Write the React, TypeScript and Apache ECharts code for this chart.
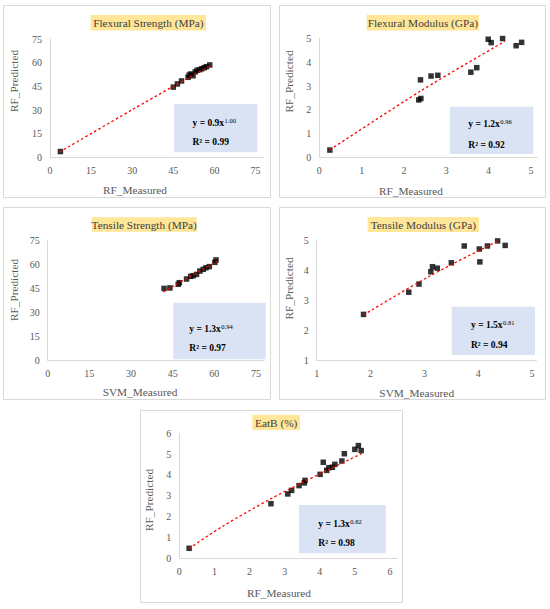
import React, { useEffect, useRef } from "react";
import * as echarts from "echarts";

const FONT = "'Liberation Serif', 'Times New Roman', Times, serif";

// ---------- data ----------
const titles = [
  "Flexural Strength (MPa)",
  "Flexural Modulus (GPa)",
  "Tensile Strength (MPa)",
  "Tensile Modulus (GPa)",
  "EatB (%)",
];
const xNames = ["RF_Measured", "RF_Measured", "SVM_Measured", "SVM_Measured", "RF_Measured"];
const yNames = ["RF_Predicted", "RF_Predicted", "RF_Predicted", "RF_Predicted", "RF_Predicted"];
const eqCoef = ["0.9", "1.2", "1.3", "1.5", "1.3"];
const eqExp = ["1.00", "0.96", "0.94", "0.81", "0.82"];
const r2Values = ["0.99", "0.92", "0.97", "0.94", "0.98"];

const flexStrengthPts = [
  [3.8, 3.9], [45, 44.6], [46.5, 46.6], [48, 48.5], [50.4, 50.8], [50.8, 52.2],
  [51.4, 52.9], [52.2, 51.8], [53, 54.2], [53.7, 55.3], [54.6, 55.6], [55.4, 56.2],
  [56.3, 56.9], [57.1, 57.5], [58.3, 58.6],
];
const flexStrengthTrend = [[3.5, 3.6], [30, 30.3], [58, 57.8]];

const flexModulusPts = [
  [0.25, 0.32], [2.35, 2.42], [2.4, 2.48], [2.39, 3.26], [2.64, 3.42], [2.8, 3.45],
  [3.58, 3.58], [3.72, 3.77], [3.99, 4.96], [4.06, 4.82], [4.33, 4.99], [4.65, 4.69],
  [4.78, 4.83],
];
const flexModulusTrend = [[0.25, 0.33], [2.4, 2.8], [4.38, 4.87]];

const tensileStrengthPts = [
  [41.9, 45], [44, 45.3], [47, 47.6], [47.4, 48.6], [50, 50.9], [51.5, 52.6],
  [52.4, 53], [53.6, 53.8], [54.8, 55.9], [56, 57], [57, 58], [58.2, 58.7],
  [60.2, 61.4], [60.6, 62.9],
];
const tensileStrengthTrend = [[41.6, 42.8], [50, 51.2], [61, 62]];

const tensileModulusPts = [
  [1.87, 2.52], [2.71, 3.26], [2.9, 3.53], [3.12, 3.94], [3.15, 4.11], [3.24, 4.06],
  [3.5, 4.24], [3.74, 4.8], [4.02, 4.7], [4.03, 4.27], [4.17, 4.8], [4.36, 4.97],
  [4.5, 4.82],
];
const tensileModulusTrend = [[1.87, 2.5], [3.1, 3.8], [4.36, 4.96]];

const eatbPts = [
  [0.28, 0.48], [2.61, 2.62], [3.09, 3.09], [3.2, 3.26], [3.41, 3.49], [3.56, 3.62],
  [3.58, 3.74], [4.01, 4.03], [4.1, 4.61], [4.2, 4.22], [4.26, 4.35], [4.36, 4.37],
  [4.43, 4.51], [4.63, 4.67], [4.7, 5.02], [5.0, 5.23], [5.1, 5.41], [5.18, 5.17],
];
const eatbTrend = [[0.28, 0.47], [1.2, 1.5], [2.6, 2.85], [4, 4.05], [5.2, 5.03]];

const pointSets = [flexStrengthPts, flexModulusPts, tensileStrengthPts, tensileModulusPts, eatbPts];
const trendSets = [flexStrengthTrend, flexModulusTrend, tensileStrengthTrend, tensileModulusTrend, eatbTrend];

// x axis: [min, last labelled tick, axis end, interval]
const xRanges = [
  [0, 75, 78, 15],
  [0, 5, 5.15, 1],
  [0, 75, 78, 15],
  [1, 5, 5.08, 1],
  [0, 6, 6.2, 1],
];
// y axis: [min, max, interval]
const yRanges = [
  [0, 75, 15],
  [0, 5, 1],
  [0, 75, 15],
  [1, 5, 1],
  [0, 6, 1],
];

// ---------- layout (pixels) ----------
const layout = [
  {
    border: [3, 5, 267, 192],
    grid: [50, 39, 213.7, 118.7],
    title: [90.7, 15, 115.3, 15.5],
    box: [174, 104, 83.3, 48.3],
    textX: 192.5, l1: 122.5, l2: 142,
    xName: [135, 190], yName: [13.5, 81],
  },
  {
    border: [279, 5, 266, 192],
    grid: [319.3, 38.3, 218, 119.4],
    title: [366.7, 15, 112.3, 15.5],
    box: [450, 106.7, 83.3, 47.3],
    textX: 468.3, l1: 123.5, l2: 144.5,
    xName: [411, 190.5], yName: [288.5, 81.5],
  },
  {
    border: [3, 207, 267, 192],
    grid: [47.7, 240.7, 216.6, 119.3],
    title: [91.7, 217.3, 105, 14.5],
    box: [173.3, 302.7, 92.4, 56.6],
    textX: 189.3, l1: 328.5, l2: 347.5,
    xName: [140, 392.3], yName: [13.5, 290],
  },
  {
    border: [279, 207, 266, 192],
    grid: [316.7, 240, 219.7, 120],
    title: [367.7, 217, 111.3, 15],
    box: [451.7, 306.7, 83.3, 48.3],
    textX: 471, l1: 325, l2: 344.5,
    xName: [416.7, 392.7], yName: [288.5, 288.5],
  },
  {
    border: [140, 410, 262, 192],
    grid: [179.3, 433.3, 217.7, 125],
    title: [252.3, 415, 47.7, 15],
    box: [299, 505, 86.7, 48.3],
    textX: 318.3, l1: 523.5, l2: 542.5,
    xName: [279, 593.3], yName: [149, 500],
  },
];

export default function App() {
  const ref = useRef<HTMLDivElement>(null);

  useEffect(() => {
    if (!ref.current) return;
    const chart = echarts.init(ref.current, undefined, { renderer: "svg" });

    const grids: any[] = [];
    const xAxes: any[] = [];
    const yAxes: any[] = [];
    const series: any[] = [];
    const graphics: any[] = [];

    layout.forEach((L, i) => {
      const [gl, gt, gw, gh] = L.grid;
      grids.push({ left: gl, top: gt, width: gw, height: gh, containLabel: false });

      const [xmin, xLabMax, xEnd, xInt] = xRanges[i];
      xAxes.push({
        gridIndex: i,
        type: "value",
        min: xmin,
        max: xEnd,
        interval: xInt,
        axisLine: { show: true, onZero: false, lineStyle: { color: "#d9d9d9", width: 1 } },
        axisTick: { show: false },
        splitLine: { show: false },
        axisLabel: {
          color: "#595959",
          fontFamily: FONT,
          fontSize: 10,
          margin: 8,
          showMinLabel: true,
          showMaxLabel: false,
          formatter: (v: number) => {
            const k = (v - xmin) / xInt;
            if (Math.abs(k - Math.round(k)) > 1e-6 || v > xLabMax + 1e-6) return "";
            return String(Math.round(v * 100) / 100);
          },
        },
      });

      const [ymin, ymax, yInt] = yRanges[i];
      yAxes.push({
        gridIndex: i,
        type: "value",
        min: ymin,
        max: ymax,
        interval: yInt,
        axisLine: { show: true, onZero: false, lineStyle: { color: "#d9d9d9", width: 1 } },
        axisTick: { show: false },
        splitLine: { show: false },
        axisLabel: {
          color: "#595959",
          fontFamily: FONT,
          fontSize: 10,
          margin: 8,
          showMinLabel: true,
          showMaxLabel: true,
        },
      });

      series.push({
        type: "scatter",
        xAxisIndex: i,
        yAxisIndex: i,
        symbol: "rect",
        symbolSize: 5.5,
        itemStyle: { color: "#000000" },
        data: pointSets[i],
        z: 3,
      });
      series.push({
        type: "line",
        xAxisIndex: i,
        yAxisIndex: i,
        showSymbol: false,
        symbol: "none",
        smooth: 0.3,
        lineStyle: { color: "#ff0000", width: 1.3, type: [2.5, 2.5] },
        data: trendSets[i],
        z: 4,
      });

      const [bx, by, bw, bh] = L.border;
      graphics.push({
        type: "rect",
        shape: { x: bx + 0.5, y: by + 0.5, width: bw, height: bh },
        style: { fill: "none", stroke: "#d9d9d9", lineWidth: 1 },
        z: 1,
        silent: true,
      });

      const [tx, ty, tw, th] = L.title;
      graphics.push({
        type: "rect",
        shape: { x: tx, y: ty, width: tw, height: th },
        style: { fill: "#ffe699" },
        z: 1,
      });
      graphics.push({
        type: "text",
        x: tx + tw / 2,
        y: ty + th / 2 + 0.5,
        style: {
          text: titles[i],
          fontFamily: FONT,
          fontSize: 11.3,
          fill: "#404040",
          align: "center",
          verticalAlign: "middle",
        },
        z: 2,
      });

      const [rx, ry, rw, rh] = L.box;
      graphics.push({
        type: "rect",
        shape: { x: rx, y: ry, width: rw, height: rh },
        style: { fill: "#dae3f3" },
        z: 1,
      });
      graphics.push({
        type: "text",
        x: L.textX,
        y: L.l1,
        style: {
          text: `{m|y = ${eqCoef[i]}x}{s|${eqExp[i]}}`,
          align: "left",
          verticalAlign: "middle",
          rich: {
            m: {
              fontFamily: FONT,
              fontSize: 9.5,
              fontWeight: "bold",
              fill: "#000000",
              lineHeight: 12,
              verticalAlign: "middle",
            },
            s: {
              fontFamily: FONT,
              fontSize: 6.5,
              fill: "#000000",
              lineHeight: 6,
              verticalAlign: "top",
              padding: [0, 0, 0, 0.5],
            },
          },
        },
        z: 2,
      });
      graphics.push({
        type: "text",
        x: L.textX,
        y: L.l2,
        style: {
          text: `R² = ${r2Values[i]}`,
          fontFamily: FONT,
          fontSize: 9.5,
          fontWeight: "bold",
          fill: "#000000",
          align: "left",
          verticalAlign: "middle",
        },
        z: 2,
      });

      graphics.push({
        type: "text",
        x: L.xName[0],
        y: L.xName[1],
        style: {
          text: xNames[i],
          fontFamily: FONT,
          fontSize: 11.3,
          fill: "#595959",
          align: "center",
          verticalAlign: "middle",
        },
        z: 2,
      });
      graphics.push({
        type: "text",
        x: L.yName[0],
        y: L.yName[1],
        rotation: Math.PI / 2,
        style: {
          text: yNames[i],
          fontFamily: FONT,
          fontSize: 11.3,
          fill: "#595959",
          align: "center",
          verticalAlign: "middle",
        },
        z: 2,
      });
    });

    chart.setOption({
      animation: false,
      backgroundColor: "#ffffff",
      grid: grids,
      xAxis: xAxes,
      yAxis: yAxes,
      series,
      graphic: { elements: graphics },
    });

    return () => chart.dispose();
  }, []);

  return (
    <div
      ref={ref}
      style={{ position: "fixed", left: 0, top: 0, width: 550, height: 609 }}
    />
  );
}
